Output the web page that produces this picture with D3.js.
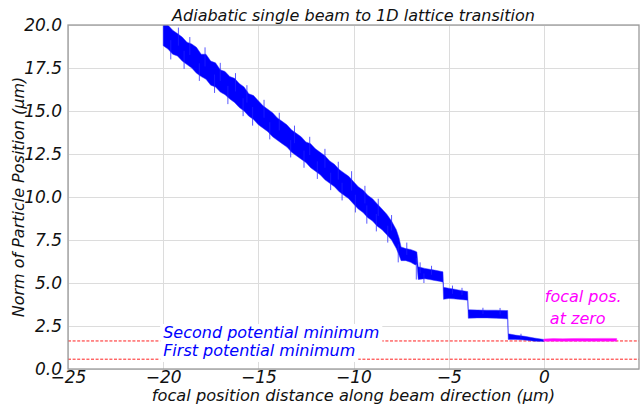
<!DOCTYPE html>
<html>
<head>
<meta charset="utf-8">
<script src="https://cdn.jsdelivr.net/npm/d3@7"></script>
<style>
  html, body { margin: 0; padding: 0; background: #fff; }
  svg { display: block; }
  text { font-family: "DejaVu Sans", sans-serif; font-style: italic; }
</style>
</head>
<body>
<svg id="chart" width="642" height="405"></svg>
<script>
// Tick values
const xTicks = [-25, -20, -15, -10, -5, 0];
const yTicks = [0, 2.5, 5, 7.5, 10, 12.5, 15, 17.5, 20];

// Particle position envelope while the focus travels towards zero (lower / upper edge of the noisy trace)
const blueX  = [-20.0, -19.75, -19.5, -19.25, -19.0, -18.75, -18.5, -18.25, -18.0, -17.75,
                -17.5, -17.25, -17.0, -16.75, -16.5, -16.25, -16.0, -15.75, -15.5, -15.25,
                -15.0, -14.75, -14.5, -14.25, -14.0, -13.75, -13.5, -13.25, -13.0, -12.75,
                -12.5, -12.25, -12.0, -11.75, -11.5, -11.25, -11.0, -10.75, -10.5, -10.25,
                -10.0, -9.75, -9.5, -9.25, -9.0, -8.75, -8.5, -8.25, -8.0, -7.75,
                -7.6, -7.5, -7.25, -7.0, -6.75, -6.67, -6.6, -6.25, -6.0, -5.75,
                -5.5, -5.3, -5.27, -5.0, -4.75, -4.5, -4.25, -4.0, -3.97, -3.5,
                -3.0, -2.5, -2.0, -1.9, -1.87, -1.5, -1.0, -0.5, 0.0];
const blueLo = [18.8, 18.6, 18.3, 18.2, 17.9, 17.7, 17.5, 17.2, 17.0, 16.85,
                16.5, 16.4, 16.1, 15.95, 15.7, 15.5, 15.2, 15.0, 14.7, 14.5,
                14.2, 14.0, 13.8, 13.5, 13.3, 13.1, 12.9, 12.6, 12.4, 12.2,
                12.0, 11.7, 11.5, 11.3, 11.0, 10.8, 10.6, 10.3, 10.1, 9.9,
                9.6, 9.3, 9.1, 8.8, 8.6, 8.3, 8.1, 7.8, 7.5, 7.0,
                6.6, 6.3, 6.3, 6.2, 6.05, 6.1, 5.2, 5.25, 5.2, 5.15,
                5.1, 5.05, 4.05, 4.1, 4.08, 4.05, 4.03, 4.0, 2.95, 2.97,
                2.97, 2.95, 2.92, 2.9, 1.72, 1.72, 1.68, 1.62, 1.6];
const blueHi = [20.3, 20.0, 19.7, 19.5, 19.3, 19.0, 18.9, 18.7, 18.3, 18.3,
                17.9, 17.8, 17.4, 17.3, 17.0, 16.9, 16.6, 16.4, 16.0, 15.9,
                15.6, 15.3, 15.1, 14.9, 14.6, 14.4, 14.2, 13.9, 13.7, 13.5,
                13.2, 13.1, 12.8, 12.6, 12.4, 12.1, 11.9, 11.6, 11.4, 11.2,
                10.9, 10.6, 10.4, 10.1, 9.9, 9.6, 9.3, 9.0, 8.6, 8.1,
                7.6, 7.1, 7.0, 6.95, 6.85, 6.8, 5.95, 5.85, 5.8, 5.75,
                5.7, 5.65, 4.75, 4.7, 4.65, 4.6, 4.55, 4.5, 3.45, 3.43,
                3.42, 3.42, 3.4, 3.4, 2.05, 1.97, 1.9, 1.8, 1.72];

// Isolated excursions of the trace beyond its envelope (position, extreme value)
const spikeX  = [-19.6, -18.9, -18.1, -17.3, -16.6, -15.8, -15.3, -14.4, -13.3, -12.6,
                 -11.9, -11.2, -10.6, -9.9, -9.3, -8.8, -8.2, -7.65, -6.7, -6.3,
                 -19.2, -18.6, -17.8, -17.0, -16.2, -15.6, -14.7, -13.9, -13.1, -12.3,
                 -11.5, -10.8, -10.1, -9.4, -8.7, -8.0, -7.2, -6.5, -5.9, -4.8,
                 -4.3, -3.2, -2.3, -1.2];
const spikeY  = [18.0, 17.45, 16.75, 16.05, 15.4, 14.7, 14.15, 13.35, 12.3, 11.7,
                 11.05, 10.4, 9.8, 9.1, 8.45, 8.0, 7.35, 6.2, 5.2, 5.0,
                 19.85, 19.3, 18.7, 17.8, 17.2, 16.5, 15.65, 14.9, 14.15, 13.5,
                 12.8, 12.05, 11.5, 10.65, 9.9, 8.95, 7.35, 6.2, 6.0, 4.85,
                 4.72, 3.56, 3.55, 2.05];

// Position after the focus has reached zero
const magX  = [0.0, 0.5, 1.0, 1.5, 2.0, 2.5, 3.0, 3.5, 3.83];
const magLo = [1.62, 1.62, 1.61, 1.62, 1.62, 1.61, 1.62, 1.62, 1.62];
const magHi = [1.74, 1.77, 1.76, 1.77, 1.78, 1.77, 1.78, 1.78, 1.77];

// Potential minima (reference levels)
const minimaLevels = [1.63, 0.57];
const minimaLabels = ["Second potential minimum", "First potential minimum"];

const svg = d3.select("#chart");
const margin = { left: 68, right: 3, top: 25, bottom: 36 };
const W = 642, H = 405;

const x = d3.scaleLinear().domain([-25, 5]).range([margin.left, W - margin.right]);
const y = d3.scaleLinear().domain([0, 20]).range([H - margin.bottom, margin.top]);

svg.append("defs").append("clipPath").attr("id", "plotClip")
  .append("rect")
  .attr("x", x(-25)).attr("y", y(20))
  .attr("width", x(5) - x(-25)).attr("height", y(0) - y(20));

// Grid
const grid = svg.append("g").attr("stroke", "#dcdcdc").attr("stroke-width", 1);
grid.selectAll("line.v").data(xTicks).join("line")
  .attr("x1", d => Math.round(x(d)) + 0.5).attr("x2", d => Math.round(x(d)) + 0.5)
  .attr("y1", y(0)).attr("y2", y(20));
grid.selectAll("line.h").data(yTicks).join("line")
  .attr("y1", d => Math.round(y(d)) + 0.5).attr("y2", d => Math.round(y(d)) + 0.5)
  .attr("x1", x(-25)).attr("x2", x(5));

// Dashed minima lines
svg.append("g").selectAll("line").data(minimaLevels).join("line")
  .attr("x1", x(-25)).attr("x2", x(5))
  .attr("y1", d => y(d)).attr("y2", d => y(d))
  .attr("stroke", "#ff2020").attr("stroke-width", 1)
  .attr("stroke-dasharray", "3,1.6");

// Labels for the minima, on white boxes
const labelG = svg.append("g");
minimaLabels.forEach((t, i) => {
  const g = labelG.append("g");
  const txt = g.append("text")
    .attr("x", x(-20)).attr("y", y(minimaLevels[0]) - 3 + i * 18)
    .attr("fill", "#0000ff").attr("font-size", 16)
    .text(t);
  const bb = txt.node().getBBox();
  g.insert("rect", "text")
    .attr("x", bb.x - 3).attr("y", bb.y + 1)
    .attr("width", bb.width + 6).attr("height", bb.height + 1)
    .attr("fill", "#ffffff");
});

// Data traces
const plot = svg.append("g").attr("clip-path", "url(#plotClip)");
const bandArea = d3.area()
  .x(d => x(d[0])).y0(d => y(d[1])).y1(d => y(d[2]));

plot.append("path")
  .datum(blueX.map((v, i) => [v, blueLo[i], blueHi[i]]))
  .attr("d", bandArea)
  .attr("fill", "#0000ff")
  .attr("stroke", "#3030ff").attr("stroke-width", 0.8).attr("stroke-opacity", 0.6);

// Excursions start from the middle of the envelope
const mid = d3.scaleLinear().domain(blueX).range(blueX.map((v, i) => (blueLo[i] + blueHi[i]) / 2));
plot.append("g").selectAll("line").data(spikeX.map((v, i) => [v, spikeY[i]])).join("line")
  .attr("x1", d => x(d[0])).attr("x2", d => x(d[0]))
  .attr("y1", d => y(mid(d[0]))).attr("y2", d => y(d[1]))
  .attr("stroke", "#2020ff").attr("stroke-width", 1).attr("stroke-opacity", 0.75);

plot.append("path")
  .datum(magX.map((v, i) => [v, magLo[i], magHi[i]]))
  .attr("d", bandArea)
  .attr("fill", "#ff00ff")
  .attr("stroke", "#ff30ff").attr("stroke-width", 0.8).attr("stroke-opacity", 0.6);

// Spines
svg.append("rect")
  .attr("x", x(-25)).attr("y", y(20))
  .attr("width", x(5) - x(-25)).attr("height", y(0) - y(20))
  .attr("fill", "none").attr("stroke", "#9a9a9a").attr("stroke-width", 1.3);

// Axes (labels only)
const fmtX = d => d3.format("d")(d).replace("-", "\u2212");
const xAxis = svg.append("g")
  .attr("transform", `translate(0,${y(0)})`)
  .call(d3.axisBottom(x).tickValues(xTicks).tickFormat(fmtX).tickSize(0).tickPadding(2));
xAxis.select(".domain").remove();
xAxis.selectAll("text").attr("font-size", 17).attr("fill", "#111")
  .attr("font-family", "DejaVu Sans").attr("font-style", "italic");

const yAxis = svg.append("g")
  .attr("transform", `translate(${x(-25)},0)`)
  .call(d3.axisLeft(y).tickValues(yTicks).tickFormat(d3.format(".1f")).tickSize(0).tickPadding(6));
yAxis.select(".domain").remove();
yAxis.selectAll("text").attr("font-size", 17).attr("fill", "#111")
  .attr("font-family", "DejaVu Sans").attr("font-style", "italic");

// Focal annotation
const ann = svg.append("text").attr("fill", "#ff00ff").attr("font-size", 16);
ann.append("tspan").attr("x", x(0.05)).attr("y", 302).text("focal pos.");
ann.append("tspan").attr("x", x(0.05)).attr("y", 324).text(" at zero");

// Title and axis titles
svg.append("text")
  .attr("x", (x(-25) + x(5)) / 2).attr("y", 21)
  .attr("text-anchor", "middle").attr("font-size", 16).attr("fill", "#111")
  .text("Adiabatic single beam to 1D lattice transition");

svg.append("text")
  .attr("x", (x(-25) + x(5)) / 2).attr("y", 401)
  .attr("text-anchor", "middle").attr("font-size", 16.2).attr("fill", "#111")
  .text("focal position distance along beam direction (\u03bcm)");

svg.append("text")
  .attr("transform", `translate(24,${(y(0) + y(20)) / 2}) rotate(-90)`)
  .attr("text-anchor", "middle").attr("font-size", 16).attr("fill", "#111")
  .text("Norm of Particle Position (\u03bcm)");
</script>
</body>
</html>
